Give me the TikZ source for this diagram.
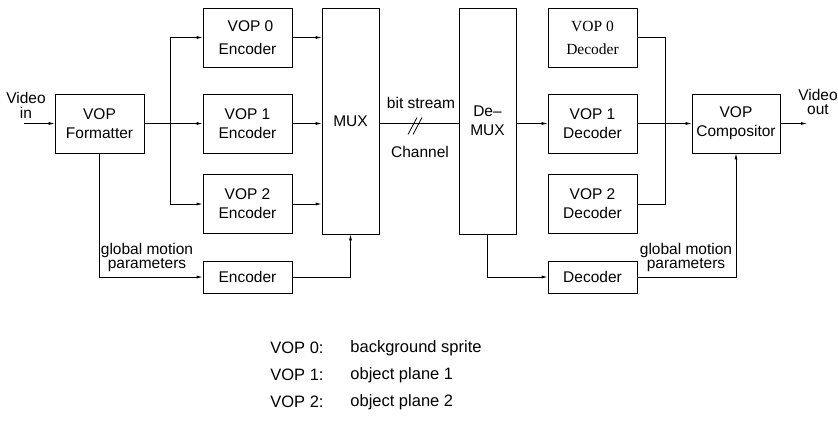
\documentclass[tikz,border=0pt]{standalone}
\usepackage{fontspec}
\setmainfont{Liberation Sans}
\newfontfamily\timesfont{Liberation Serif}
\usetikzlibrary{arrows.meta,positioning}

\tikzset{
  blk/.style={draw, line width=0.8pt, align=center, inner sep=0pt,
    font=\fontsize{15.5}{19}\selectfont},
  vopblk/.style={blk, minimum width=89pt, minimum height=59pt},
  lowblk/.style={blk, minimum width=89pt, minimum height=32pt},
  muxblk/.style={blk, minimum width=57pt, minimum height=226pt},
  lbl/.style={align=center, inner sep=0pt, font=\fontsize{15.5}{14.5}\selectfont},
  leg/.style={anchor=west, inner sep=0pt, font=\fontsize{16.5}{19}\selectfont}
}

\begin{document}
\begin{tikzpicture}[x=1pt, y=-1pt, line width=0.8pt, >={Latex[length=6pt,width=3pt]}]
    \useasboundingbox (0,0) rectangle (838,422);
    % encoder side
    \node[vopblk] (fmt) at (99.5,123.5) {VOP\\Formatter};
    \node[vopblk, font=\fontsize{15.5}{23}\selectfont] (enc0) at (247.5,37.5) {\hspace{6pt}VOP 0\\Encoder};
    \foreach \i/\y in {1/123.5,2/204} \node[vopblk] (enc\i) at (247.5,\y) {VOP \i\\Encoder};
    \node[lowblk] (genc) at (247.5,277) {Encoder};
    \node[muxblk] (mux) at (350.5,121) {MUX};
    % decoder side
    \node[muxblk] (demux) at (487.5,121) {De--\\MUX};
    \node[vopblk, font=\fontsize{15.5}{23}\timesfont] (dec0) at (592.5,37.5) {VOP 0\\Decoder};
    \foreach \i/\y in {1/123.5,2/204} \node[vopblk] (dec\i) at (592.5,\y) {VOP \i\\Decoder};
    \node[lowblk] (gdec) at (592.5,277) {Decoder};
    \node[vopblk, minimum width=88pt] (comp) at (736,123.5) {VOP\\Compositor};

    \coordinate (vin) at (24,123.5);
    \coordinate (fork) at (170,123.5);
    \coordinate (cut) at (416,123.5);
    \coordinate (join) at (665,123.5);
    \coordinate (vout) at (807,123.5);

    \node[lbl] (vinlbl) at (26,105.5) {Video\\in};
    \node[lbl] (voutlbl) at (818,102) {Video\\out};
    \node[lbl] (gmenc) at (147,257.5) {global motion\\parameters};
    \node[lbl] (gmdec) at (686,257.5) {global motion\\parameters};
    \node[lbl] (bits) at (421,103) {bit stream};
    \node[lbl] (chan) at (420,152) {Channel};

    % connectors
    \draw[->] (vin) -- (fmt);
    \draw (fmt) -- (fork);
    \draw[->] (fork) -- (enc1);
    \draw[->] (fork) |- (enc0);
    \draw[->] (fork) |- (enc2);
    \draw[->] (fmt) |- (genc);
    \foreach \i in {0,1,2} \draw[->] (enc\i) -- (enc\i -| mux.west);
    \draw[->] (genc) -| (mux);
    \draw (mux) -- (mux.east |- cut) -- (cut -| demux.west);
    \draw ([shift={(-8,11)}]cut) -- ([shift={(1,-6)}]cut);
    \draw ([shift={(-3,11)}]cut) -- ([shift={(6,-6)}]cut);
    \draw[->] (dec1 -| demux.east) -- (dec1);
    \draw[->] (demux.south) |- (gdec);
    \draw (dec0) -| (join);
    \draw (dec2) -| (join);
    \draw[->] (dec1) -- (comp);
    \draw[->] (gdec) -| (comp);
    \draw[->] (comp) -- (vout);

    % legend
    \foreach \i/\y/\txt in {0/348/background sprite,1/375/object plane 1,2/402/object plane 2} {
      \node[leg] (key\i) at (270,\y) {VOP \i:};
      \node[leg] (desc\i) at (350,\y) {\txt};
    }
\end{tikzpicture}
\end{document}
